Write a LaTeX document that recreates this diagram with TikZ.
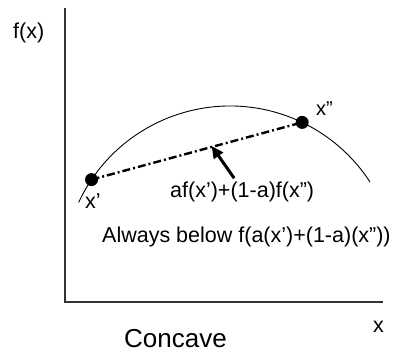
\documentclass[tikz,border=0pt]{standalone}
\usepackage{fontspec}
\setmainfont{Liberation Sans}
\usetikzlibrary{arrows.meta,positioning,calc}
\tikzset{
  axis/.style={line width=1.2pt,draw=black!80},
  curve/.style={line width=0.9pt},
  chord/.style={line width=2.4pt,dash pattern=on 8pt off 3pt on 2pt off 3pt},
  pointer/.style={-{Triangle[length=12pt,width=11pt]},line width=3pt,shorten >=-1pt},
  pt/.style={circle,fill=black,inner sep=0pt,minimum size=13pt},
  lbl/.style={font=\fontsize{21.5}{25}\selectfont,inner sep=0pt},
  biglbl/.style={font=\fontsize{26}{30}\selectfont,inner sep=0pt},
}
\begin{document}
\begin{tikzpicture}[x=1pt,y=1pt]
\useasboundingbox (0,0) rectangle (409,360);
\fill[white] (0,0) rectangle (409,360);

% axes
\coordinate (o) at (65,58);
\coordinate (ytop) at (65,352);
\coordinate (xend) at (383,58);
\draw[axis] (ytop) -- (o) -- (xend);

% concave arc
\coordinate (c) at (230,87);
\draw[curve] ($(c)+(155:167)$) arc[start angle=155,end angle=33,radius=167];

% two points on the arc and the chord
\node[pt] (p1) at ($(c)+(146:167)$) {};
\node[pt] (p2) at ($(c)+(64.4:167)$) {};
\draw[chord] (p1.center) -- (p2.center) coordinate[pos=0.573] (tip);

% labels
\node[lbl,anchor=base west] (fx) at (13,322) {f(x)};
\node[lbl,anchor=base west] (xl) at (373,28) {x};
\node[biglbl,anchor=base west] (cc) at (124,13) {Concave};
\node[lbl,anchor=base west] (x1) at (85,152) {x’};
\node[lbl,font=\fontsize{20}{24}\selectfont,anchor=base west] (x2) at (316,245) {x”};
\node[lbl,anchor=base west] (mix) at (170,163) {af(x’)+(1-a)f(x”)};
\node[lbl,anchor=base west] (note) at (102,118) {Always below f(a(x’)+(1-a)(x”))};

\draw[pointer] ([xshift=-8pt,yshift=3pt]mix.north) -- (tip);
\end{tikzpicture}
\end{document}
